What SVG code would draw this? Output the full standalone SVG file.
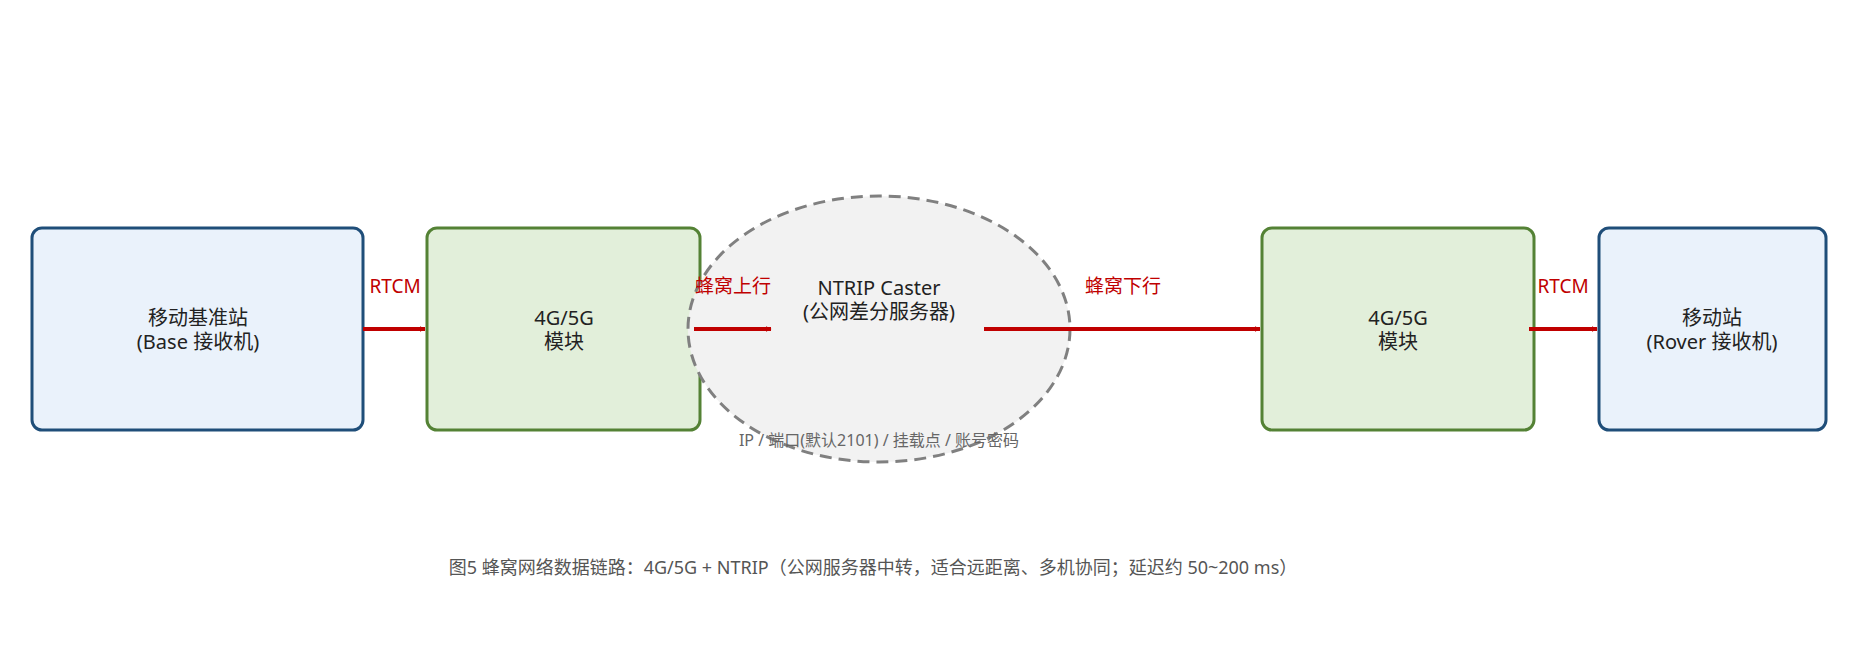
<svg xmlns="http://www.w3.org/2000/svg" width="1860" height="645" viewBox="0 0 1860 645">
<defs>
<marker id="ah" viewBox="0 0 10 10" refX="9" refY="5" markerWidth="6" markerHeight="6" markerUnits="userSpaceOnUse" orient="auto">
<path d="M0,0 L10,5 L0,10 z" fill="#c00000"/>
</marker>
<style>
text{font-family:"Noto Sans","Noto Sans CJK SC",sans-serif;text-anchor:middle}
.blue{fill:#eaf2fb;stroke:#1f4e79;stroke-width:3}
.green{fill:#e2efda;stroke:#548235;stroke-width:3}
.t{font-size:20px;fill:#222}
.lab{font-size:19px;fill:#c00000}
.conn line{stroke:#c00000;stroke-width:4}
</style>
</defs>
<rect width="1860" height="645" fill="#fff"/>
<g id="base"><rect class="blue" x="32" y="228" width="331" height="202" rx="10"/>
<text class="t" x="198" y="325">移动基准站</text><text class="t" x="198" y="349">(Base 接收机)</text></g>
<g id="m1"><rect class="green" x="427" y="228" width="273" height="202" rx="10"/>
<text class="t" x="564" y="325">4G/5G</text><text class="t" x="564" y="349">模块</text></g>
<g id="caster"><ellipse cx="879" cy="329" rx="191" ry="133" fill="#f2f2f2" stroke="#808080" stroke-width="3" stroke-dasharray="12,7"/>
<text class="t" x="879" y="295">NTRIP Caster</text><text class="t" x="879" y="319">(公网差分服务器)</text>
<text x="879" y="446" style="font-size:16px;fill:#666">IP / 端口(默认2101) / 挂载点 / 账号密码</text></g>
<g id="m2"><rect class="green" x="1262" y="228" width="272" height="202" rx="10"/>
<text class="t" x="1398" y="325">4G/5G</text><text class="t" x="1398" y="349">模块</text></g>
<g id="rover"><rect class="blue" x="1599" y="228" width="227" height="202" rx="10"/>
<text class="t" x="1712" y="325">移动站</text><text class="t" x="1712" y="349">(Rover 接收机)</text></g>
<g class="conn">
<line x1="363" y1="329" x2="425" y2="329" marker-end="url(#ah)"/>
<line x1="694" y1="329" x2="771" y2="329" marker-end="url(#ah)"/>
<line x1="984" y1="329" x2="1260" y2="329" marker-end="url(#ah)"/>
<line x1="1529" y1="329" x2="1597" y2="329" marker-end="url(#ah)"/>
<text class="lab" x="395" y="293">RTCM</text>
<text class="lab" x="733" y="293">蜂窝上行</text>
<text class="lab" x="1123" y="293">蜂窝下行</text>
<text class="lab" x="1563" y="293">RTCM</text>
</g>
<text x="873" y="574" style="font-size:18px;fill:#555">图5  蜂窝网络数据链路：4G/5G + NTRIP（公网服务器中转，适合远距离、多机协同；延迟约 50~200 ms）</text>
</svg>
